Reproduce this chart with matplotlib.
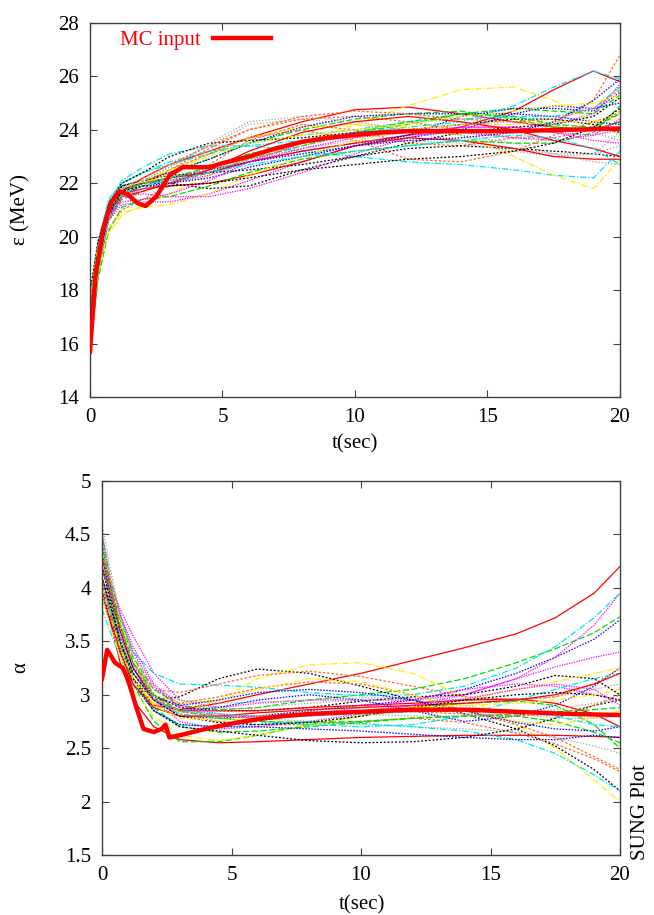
import numpy as np
import matplotlib
matplotlib.use('Agg')
import matplotlib.pyplot as plt

plt.rcParams['font.family'] = ['Liberation Serif', 'DejaVu Serif']
plt.rcParams['font.size'] = 15

# ---------------- data ----------------
T = [0, 0.3, 0.7, 1.2, 2, 3, 4.5, 6, 8, 10, 12, 14, 16, 17.5, 19, 20]

eps_runs = [
    [17.0, 19.3, 20.9, 21.7, 22.2, 22.7, 23.2, 23.7, 24.3, 24.75, 24.85, 24.6, 24.3, 24.1, 24.0, 24.3],
    [16.5, 19.0, 20.6, 21.4, 21.7, 22.0, 22.4, 22.9, 23.4, 23.9, 24.2, 24.6, 24.8, 24.7, 24.6, 25.3],
    [16.0, 18.8, 20.7, 21.7, 22.0, 22.1, 22.4, 22.8, 23.2, 23.5, 23.7, 24.0, 24.6, 24.9, 24.8, 25.0],
    [16.8, 19.2, 20.6, 21.2, 21.3, 21.3, 21.6, 22.1, 22.8, 23.4, 23.8, 23.9, 24.0, 24.2, 24.6, 25.7],
    [17.5, 19.6, 21.3, 22.1, 22.6, 23.1, 23.4, 23.4, 23.2, 23.0, 22.8, 22.7, 22.5, 22.3, 22.2, 23.2],
    [16.2, 18.7, 20.3, 21.0, 21.4, 21.9, 22.7, 23.6, 24.2, 24.0, 23.5, 23.4, 23.7, 24.2, 25.1, 26.8],
    [17.2, 19.4, 21.0, 21.8, 22.0, 22.0, 21.8, 21.9, 22.5, 23.0, 23.3, 23.4, 23.3, 23.2, 23.1, 23.0],
    [16.6, 18.6, 20.1, 20.8, 21.2, 21.6, 22.3, 22.9, 23.5, 24.2, 24.9, 25.5, 25.6, 25.1, 24.3, 23.8],
    [15.8, 18.5, 20.6, 21.6, 22.1, 22.6, 23.4, 24.2, 24.4, 24.2, 23.9, 23.6, 23.3, 23.1, 23.1, 23.4],
    [15.5, 18.6, 20.8, 21.7, 22.0, 22.2, 22.4, 22.8, 23.2, 23.5, 23.8, 24.1, 24.7, 25.5, 26.2, 25.8],
    [17.8, 19.8, 21.2, 21.9, 22.1, 22.4, 22.9, 23.5, 24.0, 24.4, 24.6, 24.7, 24.4, 24.1, 24.0, 24.3],
    [16.3, 19.0, 20.9, 21.8, 22.0, 22.2, 22.5, 22.8, 23.1, 23.4, 23.8, 24.5, 24.8, 24.8, 24.7, 25.4],
    [17.4, 19.5, 20.9, 21.5, 21.6, 21.5, 21.5, 21.8, 22.4, 23.1, 23.7, 24.1, 24.1, 23.9, 23.8, 24.0],
    [16.9, 19.3, 21.2, 22.0, 22.4, 22.8, 23.2, 23.4, 23.6, 23.9, 24.1, 24.3, 24.9, 25.6, 26.2, 25.9],
    [17.6, 19.7, 21.0, 21.6, 21.9, 22.5, 23.3, 24.0, 24.4, 24.5, 24.3, 24.0, 23.7, 23.7, 24.0, 24.7],
    [16.1, 18.9, 20.9, 21.9, 22.1, 22.3, 22.4, 22.5, 22.7, 23.0, 23.5, 23.9, 24.1, 24.2, 24.5, 25.2],
    [17.1, 19.2, 20.7, 21.5, 21.9, 22.4, 23.1, 23.7, 24.1, 24.2, 24.1, 23.8, 23.0, 22.3, 21.8, 22.9],
    [16.4, 18.9, 20.7, 21.6, 21.9, 22.2, 22.5, 22.9, 23.3, 23.6, 23.6, 23.5, 23.2, 23.0, 23.1, 23.9],
    [16.7, 19.1, 20.8, 21.6, 21.8, 21.9, 22.0, 22.3, 22.8, 23.4, 23.7, 23.6, 23.3, 23.0, 22.9, 22.9],
    [16.0, 18.4, 20.2, 21.1, 21.4, 21.5, 21.9, 22.4, 22.9, 23.2, 23.4, 23.6, 23.5, 23.5, 23.9, 24.9],
    [17.3, 19.6, 21.1, 21.9, 22.1, 22.4, 22.9, 23.5, 24.1, 24.5, 24.6, 24.6, 24.6, 24.5, 24.3, 24.2],
    [15.9, 18.7, 20.6, 21.5, 21.8, 22.0, 22.3, 22.8, 23.3, 23.7, 23.9, 24.1, 24.1, 23.9, 23.6, 23.5],
    [17.7, 19.8, 21.4, 22.0, 22.4, 22.7, 23.1, 23.5, 23.8, 24.0, 24.3, 24.4, 24.5, 24.5, 24.8, 25.6],
    [16.5, 19.0, 20.8, 21.7, 22.0, 22.5, 23.1, 23.7, 24.0, 23.6, 22.9, 22.8, 23.2, 23.8, 24.3, 24.6],
    [17.9, 19.8, 21.2, 22.0, 22.4, 23.0, 23.5, 23.6, 23.7, 23.9, 24.0, 24.2, 24.4, 24.4, 24.2, 23.9],
    [16.2, 18.6, 20.3, 20.9, 21.1, 21.2, 21.6, 22.3, 23.0, 23.6, 24.0, 24.2, 24.2, 24.3, 24.3, 24.4],
    [17.0, 19.3, 20.9, 21.8, 22.1, 22.6, 23.5, 24.3, 24.5, 24.3, 24.0, 23.8, 23.5, 23.1, 22.8, 22.7],
    [16.6, 19.0, 20.7, 21.5, 21.7, 22.0, 22.5, 23.2, 23.9, 24.3, 24.5, 24.3, 24.0, 23.6, 23.3, 23.0],
    [17.2, 19.5, 21.0, 21.7, 22.0, 22.2, 22.6, 23.1, 23.5, 23.9, 24.3, 24.6, 24.5, 24.2, 24.1, 24.6],
    [16.4, 18.9, 20.8, 21.6, 21.9, 22.0, 22.2, 22.6, 23.0, 23.4, 23.6, 23.7, 23.9, 24.3, 25.1, 25.9],
    [17.3, 19.4, 20.8, 21.3, 21.4, 21.6, 22.1, 22.8, 23.5, 23.9, 24.0, 23.9, 23.7, 23.6, 23.8, 24.4],
    [16.1, 18.7, 20.7, 21.6, 21.9, 22.1, 22.4, 22.7, 23.0, 23.2, 23.4, 23.6, 23.8, 23.7, 23.3, 22.7],
    [17.5, 19.6, 21.1, 21.8, 22.2, 22.7, 23.4, 24.0, 24.5, 24.7, 24.6, 24.4, 24.3, 24.4, 24.8, 25.5],
    [16.8, 19.2, 20.9, 21.7, 21.9, 21.9, 22.0, 22.2, 22.5, 22.7, 22.9, 23.0, 23.2, 23.5, 24.1, 24.8],
    [17.6, 19.6, 21.0, 21.8, 22.1, 22.5, 23.0, 23.5, 23.8, 24.0, 24.2, 24.5, 24.7, 24.9, 25.0, 25.3],
    [16.3, 18.8, 20.6, 21.5, 21.8, 22.0, 22.4, 22.9, 23.4, 23.8, 24.0, 24.2, 24.3, 24.2, 23.9, 23.6],
]

alpha_runs = [
    [4.1, 3.8, 3.45, 3.15, 2.9, 2.86, 2.92, 3.0, 3.1, 3.2, 3.32, 3.44, 3.57, 3.72, 3.95, 4.2],
    [4.5, 4.1, 3.7, 3.35, 3.05, 2.9, 2.86, 2.88, 2.95, 3.0, 3.05, 3.15, 3.3, 3.43, 3.58, 3.73],
    [4.2, 3.9, 3.55, 3.25, 2.95, 2.8, 2.78, 2.8, 2.85, 2.9, 2.95, 3.05, 3.2, 3.35, 3.52, 3.7],
    [4.3, 4.05, 3.8, 3.55, 3.2, 2.95, 2.88, 2.92, 2.95, 2.95, 2.95, 3.0, 3.15, 3.35, 3.65, 3.95],
    [4.4, 4.05, 3.7, 3.4, 3.2, 3.1, 3.09, 3.07, 3.02, 2.99, 3.0, 3.08, 3.25, 3.45, 3.72, 3.95],
    [3.9, 3.7, 3.45, 3.2, 2.95, 2.82, 2.75, 2.72, 2.72, 2.75, 2.78, 2.74, 2.64, 2.54, 2.4, 2.28],
    [4.0, 3.75, 3.45, 3.15, 2.95, 2.98, 3.15, 3.24, 3.2, 3.08, 2.95, 2.82, 2.68, 2.52, 2.3, 2.1],
    [4.2, 3.9, 3.55, 3.2, 2.92, 2.82, 2.95, 3.15, 3.28, 3.3, 3.2, 2.98, 2.72, 2.5, 2.2, 2.0],
    [4.6, 4.2, 3.75, 3.35, 3.0, 2.85, 2.8, 2.78, 2.75, 2.72, 2.7, 2.68, 2.65, 2.6, 2.52, 2.45],
    [4.0, 3.7, 3.3, 2.95, 2.7, 2.58, 2.55, 2.56, 2.58, 2.6, 2.61, 2.62, 2.62, 2.62, 2.61, 2.6],
    [4.3, 3.95, 3.5, 3.1, 2.75, 2.56, 2.56, 2.62, 2.72, 2.8, 2.87, 2.92, 2.94, 2.9, 2.72, 2.5],
    [4.1, 3.85, 3.5, 3.2, 2.95, 2.85, 2.88, 2.95, 3.0, 2.95, 2.85, 2.75, 2.8, 2.9, 3.08, 3.25],
    [4.0, 3.8, 3.55, 3.25, 2.95, 2.75, 2.68, 2.7, 2.75, 2.82, 2.9, 3.0, 3.15, 3.26, 3.35, 3.4],
    [3.8, 3.6, 3.35, 3.1, 2.85, 2.72, 2.7, 2.72, 2.75, 2.73, 2.7, 2.66, 2.58, 2.45, 2.25, 2.1],
    [4.2, 3.95, 3.6, 3.3, 3.05, 3.02, 3.1, 3.18, 3.22, 3.17, 3.08, 2.98, 2.95, 2.98, 3.1, 3.25],
    [4.4, 4.05, 3.65, 3.3, 3.0, 2.88, 2.85, 2.85, 2.88, 2.94, 2.98, 3.0, 3.08, 3.18, 3.15, 3.0],
    [3.9, 3.65, 3.35, 3.05, 2.8, 2.62, 2.57, 2.62, 2.72, 2.8, 2.88, 2.95, 3.05, 3.12, 3.2, 3.25],
    [4.0, 3.8, 3.55, 3.3, 3.05, 2.95, 2.92, 2.93, 2.95, 2.97, 2.97, 2.95, 2.95, 2.98, 3.05, 3.1],
    [4.3, 4.0, 3.6, 3.25, 2.95, 2.85, 2.85, 2.85, 2.88, 2.9, 2.92, 2.95, 2.96, 2.92, 2.82, 2.7],
    [4.0, 3.75, 3.45, 3.15, 2.88, 2.7, 2.65, 2.66, 2.7, 2.74, 2.78, 2.8, 2.8, 2.75, 2.65, 2.55],
    [3.95, 3.7, 3.4, 3.1, 2.85, 2.72, 2.7, 2.7, 2.68, 2.66, 2.63, 2.6, 2.58, 2.58, 2.62, 2.6],
    [4.2, 4.0, 3.75, 3.45, 3.1, 2.9, 2.82, 2.8, 2.82, 2.88, 2.95, 3.05, 3.1, 3.08, 3.0, 2.95],
    [4.1, 3.85, 3.5, 3.2, 2.95, 2.82, 2.78, 2.75, 2.72, 2.7, 2.72, 2.8, 2.95, 3.05, 3.15, 3.2],
    [4.0, 3.8, 3.5, 3.2, 2.95, 2.92, 2.98, 3.06, 3.12, 3.1, 3.0, 2.85, 2.72, 2.6, 2.42, 2.3],
    [4.2, 3.9, 3.5, 3.15, 2.85, 2.7, 2.66, 2.62, 2.57, 2.55, 2.56, 2.6, 2.68, 2.78, 2.9, 2.95],
    [4.4, 4.1, 3.7, 3.3, 3.0, 2.92, 2.95, 3.05, 3.15, 3.12, 3.0, 2.85, 2.75, 2.72, 2.78, 2.85],
    [4.1, 3.85, 3.5, 3.2, 2.95, 2.85, 2.85, 2.88, 2.92, 2.95, 2.95, 2.9, 2.82, 2.78, 2.78, 2.8],
    [4.0, 3.75, 3.4, 3.1, 2.88, 2.8, 2.8, 2.83, 2.86, 2.88, 2.9, 2.92, 2.95, 3.0, 3.1, 3.2],
    [4.4, 4.05, 3.65, 3.3, 3.0, 2.85, 2.78, 2.75, 2.74, 2.75, 2.78, 2.8, 2.82, 2.84, 2.86, 2.88],
    [4.3, 3.95, 3.6, 3.25, 2.98, 2.9, 2.95, 3.02, 3.05, 3.02, 2.95, 2.85, 2.74, 2.68, 2.66, 2.7],
    [4.5, 4.1, 3.75, 3.4, 3.08, 2.88, 2.8, 2.78, 2.8, 2.85, 2.9, 2.96, 3.05, 3.1, 3.05, 2.9],
    [4.0, 3.8, 3.5, 3.2, 2.95, 2.85, 2.82, 2.8, 2.8, 2.82, 2.84, 2.86, 2.85, 2.8, 2.72, 2.7],
    [4.3, 4.0, 3.62, 3.28, 2.98, 2.84, 2.8, 2.8, 2.82, 2.84, 2.84, 2.82, 2.8, 2.82, 2.9, 3.0],
    [4.1, 3.85, 3.5, 3.2, 2.95, 2.8, 2.74, 2.72, 2.74, 2.8, 2.88, 2.95, 3.0, 3.02, 3.0, 2.95],
    [4.0, 3.75, 3.45, 3.15, 2.9, 2.78, 2.76, 2.78, 2.82, 2.85, 2.88, 2.9, 2.92, 2.95, 3.0, 3.05],
    [4.5, 4.15, 3.75, 3.38, 3.05, 2.92, 2.88, 2.86, 2.84, 2.82, 2.8, 2.8, 2.82, 2.86, 2.92, 2.96],
]

t_mc_eps = [0, 0.2, 0.5, 0.8, 1.1, 1.4, 1.8, 2.1, 2.5, 3, 3.5, 4, 4.5, 5, 6, 7, 8, 9, 10,
            11, 12, 14, 16, 18, 20]
eps_mc = [15.7, 18.5, 20.3, 21.3, 21.7, 21.6, 21.25, 21.15, 21.5, 22.3, 22.6, 22.6, 22.6,
          22.75, 23.0, 23.3, 23.55, 23.7, 23.8, 23.9, 23.95, 23.95, 23.95, 24.0, 24.05]

t_mc_alpha = [0, 0.2, 0.5, 0.8, 1.0, 1.3, 1.6, 2.0, 2.3, 2.45, 2.6, 3, 4, 5, 6, 7, 8, 10,
              12, 14, 16, 18, 20]
alpha_mc = [3.15, 3.42, 3.3, 3.25, 3.15, 2.9, 2.68, 2.65, 2.68, 2.72, 2.6, 2.62, 2.68, 2.73,
            2.77, 2.8, 2.82, 2.84, 2.86, 2.86, 2.84, 2.82, 2.81]

# gnuplot-ish line types (colour, dash pattern)
styles = [
    ('#ff0000', (0, ())),
    ('#00dd00', (0, (5, 2))),
    ('#0000ff', (0, (1.2, 1.2))),
    ('#ff00ff', (0, (1, 1))),
    ('#00e5ee', (0, (5, 1.5, 1, 1.5))),
    ('#ff6a2a', (0, (2, 1.5))),
    ('#000000', (0, (1.5, 1.5))),
    ('#ffee00', (0, (5, 1.5, 1, 1.5))),
    ('#a0a0a0', (0, (1, 1.5))),
]


def style_axes(ax):
    for s in ax.spines.values():
        s.set_color('#404040')
        s.set_linewidth(1.0)
    ax.tick_params(direction='in', top=True, right=True, length=5, width=0.8,
                   color='#404040', labelsize=15, pad=8)
    ax.set_xlim(0, 20)
    ax.set_xticks([0, 5, 10, 15, 20])


fig = plt.figure(figsize=(6.54, 9.15), dpi=100)

# top panel
ax1 = fig.add_axes([0.1376, 0.566, 0.8104, 0.409])
for i, y in enumerate(eps_runs):
    c, ls = styles[i % len(styles)]
    ax1.plot(T, y, color=c, linestyle=ls, lw=0.9)
ax1.plot(t_mc_eps, eps_mc, color='red', lw=3.2, zorder=10, label='MC input',
         solid_joinstyle='round')
style_axes(ax1)
ax1.set_ylim(14, 28)
ax1.set_yticks(np.arange(14, 29, 2))
ax1.set_ylabel('ε (MeV)')
ax1.yaxis.set_label_coords(-0.112, 0.5)
ax1.set_xlabel('t(sec)')
ax1.xaxis.set_label_coords(0.5, -0.1)
ax1.legend(loc='center left', bbox_to_anchor=(0.056, 0.954), frameon=False, markerfirst=False,
           handlelength=2.8, handletextpad=0.6, labelcolor='red', fontsize=15,
           borderpad=0, borderaxespad=0)

# bottom panel
ax2 = fig.add_axes([0.156, 0.0656, 0.792, 0.4087])
for i, y in enumerate(alpha_runs):
    c, ls = styles[i % len(styles)]
    ax2.plot(T, y, color=c, linestyle=ls, lw=0.9)
ax2.plot(t_mc_alpha, alpha_mc, color='red', lw=3.2, zorder=10, solid_joinstyle='round')
style_axes(ax2)
ax2.set_ylim(1.5, 5)
ax2.set_yticks(np.arange(1.5, 5.01, 0.5))
ax2.set_yticklabels(['1.5', '2', '2.5', '3', '3.5', '4', '4.5', '5'])
ax2.set_ylabel('α')
ax2.yaxis.set_label_coords(-0.139, 0.5)
ax2.set_xlabel('t(sec)')
ax2.xaxis.set_label_coords(0.502, -0.108)

fig.text(0.979, 0.112, 'SUNG Plot', rotation=90, ha='center', va='center', fontsize=15)

fig.savefig('out.png', dpi=100)
